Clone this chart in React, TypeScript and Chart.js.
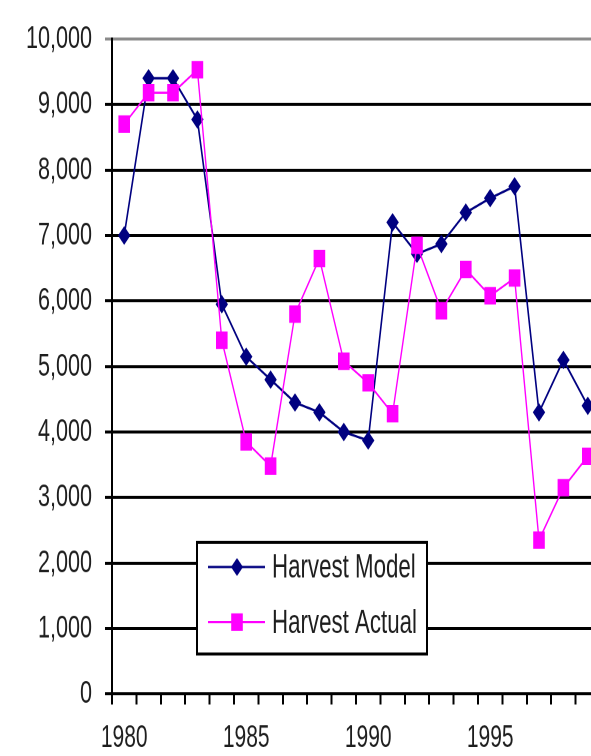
import { useEffect, useRef } from 'react';
import { Chart, registerables } from 'chart.js';

Chart.register(...registerables);

// Harvest by year, 1980-1999
const years = [
  '1980', '1981', '1982', '1983', '1984', '1985', '1986', '1987', '1988', '1989',
  '1990', '1991', '1992', '1993', '1994', '1995', '1996', '1997', '1998', '1999',
];
const labeledYears = ['1980', '1985', '1990', '1995'];

const harvestModel = [
  7000, 9400, 9400, 8770, 5950, 5150, 4800, 4450, 4300, 4000,
  3870, 7200, 6720, 6870, 7350, 7570, 7750, 4300, 5100, 4400,
];
const harvestActual = [
  8700, 9180, 9180, 9530, 5400, 3850, 3480, 5800, 6650, 5080,
  4750, 4280, 6850, 5850, 6480, 6080, 6350, 2350, 3150, 3630,
];

const FONT = '"Liberation Sans", Arial, sans-serif';
const TEXT = '#1e1e1e';
const NAVY = '#000080';
const MAGENTA = '#ff00ff';

// Boxed legend drawn inside the plot area
const boxLegend = {
  id: 'boxLegend',
  afterDraw(chart: any) {
    const ctx = chart.ctx;
    const left = 197;
    const top = 361.5;
    const right = 427;
    const bottom = 436;
    ctx.save();
    ctx.fillStyle = '#ffffff';
    ctx.fillRect(left, top, right - left, bottom - top);
    ctx.strokeStyle = '#000000';
    ctx.lineWidth = 2;
    ctx.strokeRect(left, top, right - left, bottom - top);

    const rows = [378, 414.7];
    chart.data.datasets.forEach((ds: any, i: number) => {
      const y = rows[ds.legendRow ?? i];
      ctx.strokeStyle = ds.borderColor;
      ctx.lineWidth = 1.5;
      ctx.beginPath();
      ctx.moveTo(208, y);
      ctx.lineTo(265, y);
      ctx.stroke();
      const cx = 237;
      ctx.fillStyle = ds.pointBackgroundColor;
      ctx.beginPath();
      if (ds.pointStyle === 'rectRot') {
        const r = ds.pointRadius + 0.5;
        ctx.moveTo(cx - r, y);
        ctx.lineTo(cx, y - r);
        ctx.lineTo(cx + r, y);
        ctx.lineTo(cx, y + r);
        ctx.closePath();
      } else {
        const h = ds.pointRadius * Math.SQRT1_2 + 0.5;
        ctx.rect(cx - h, y - h, 2 * h, 2 * h);
      }
      ctx.fill();
      ctx.fillStyle = TEXT;
      ctx.font = `22.3px ${FONT}`;
      ctx.textAlign = 'left';
      ctx.textBaseline = 'middle';
      ctx.fillText(ds.label, 272, y + 1);
    });
    ctx.restore();
  },
};

export default function App() {
  const canvasRef = useRef<HTMLCanvasElement | null>(null);

  useEffect(() => {
    if (!canvasRef.current) return;
    const chart = new Chart(canvasRef.current, {
      type: 'line',
      data: {
        labels: years,
        datasets: [
          {
            label: 'Harvest Model',
            data: harvestModel,
            borderColor: NAVY,
            backgroundColor: NAVY,
            pointBackgroundColor: NAVY,
            pointBorderColor: NAVY,
            pointStyle: 'rectRot',
            pointRadius: 5.5,
            pointBorderWidth: 1,
            borderWidth: 1.6,
            tension: 0,
            order: 1,
            legendRow: 0,
          } as any,
          {
            label: 'Harvest Actual',
            data: harvestActual,
            borderColor: MAGENTA,
            backgroundColor: MAGENTA,
            pointBackgroundColor: MAGENTA,
            pointBorderColor: MAGENTA,
            pointStyle: 'rect',
            pointRadius: 7.5,
            pointBorderWidth: 1,
            borderWidth: 1.4,
            tension: 0,
            order: 0,
            legendRow: 1,
          } as any,
        ],
      },
      options: {
        animation: false,
        responsive: false,
        devicePixelRatio: 2,
        layout: { padding: { top: 24, right: 10, bottom: 0, left: 0 } },
        plugins: {
          legend: { display: false },
          tooltip: { enabled: false },
        },
        scales: {
          x: {
            type: 'category',
            offset: true,
            afterFit: (scale: any) => {
              scale.height = 41.3;
            },
            grid: {
              offset: true,
              drawOnChartArea: false,
              drawTicks: true,
              tickLength: 7,
              color: '#000000',
              lineWidth: 2,
            },
            border: { display: true, color: '#000000', width: 2 },
            ticks: {
              autoSkip: false,
              maxRotation: 0,
              padding: 10,
              color: TEXT,
              font: { family: FONT, size: 21 },
              callback: function (this: any, _v: any, index: number) {
                const y = years[index];
                return labeledYears.includes(y) ? y : '';
              },
            },
          },
          y: {
            min: 0,
            max: 10000,
            afterFit: (scale: any) => {
              scale.width = 112;
            },
            grid: {
              drawTicks: true,
              tickLength: 7,
              color: (c: any) => (c.tick && c.tick.value === 10000 ? '#8a8a8a' : '#000000'),
              lineWidth: 2,
            },
            border: { display: true, color: '#000000', width: 2 },
            ticks: {
              stepSize: 1000,
              padding: 13,
              color: TEXT,
              font: { family: FONT, size: 21.6 },
              callback: (v: any) => Number(v).toLocaleString('en-US'),
            },
          },
        },
      },
      plugins: [boxLegend],
    });
    return () => chart.destroy();
  }, []);

  return (
    <div
      style={{
        position: 'fixed',
        left: 0,
        top: 0,
        width: 591,
        height: 756,
        overflow: 'hidden',
        background: '#ffffff',
      }}
    >
      <div style={{ width: 610, height: 504, transform: 'scaleY(1.5)', transformOrigin: '0 0' }}>
        <canvas ref={canvasRef} width={610} height={504} />
      </div>
    </div>
  );
}
